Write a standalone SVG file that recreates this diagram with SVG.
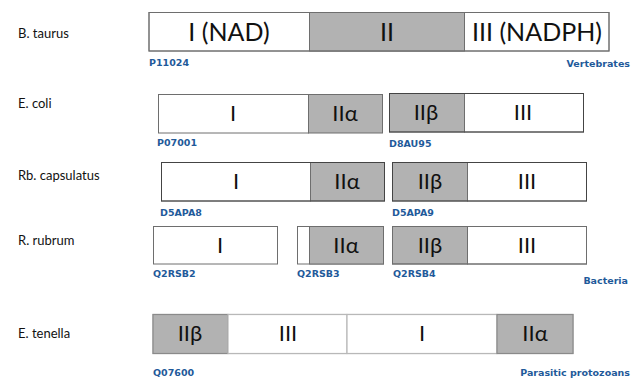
<svg xmlns="http://www.w3.org/2000/svg" width="632" height="379" viewBox="0 0 632 379">
<style>
.bg{fill:#ffffff}
.w{fill:#ffffff;stroke:#6e6e6e;stroke-width:1}
.g{fill:#b2b2b2;stroke:#6e6e6e;stroke-width:1}
.lw{fill:#ffffff;stroke:#b8b8b8;stroke-width:1.2}
.lg{fill:#b2b2b2;stroke:#8a8a8a;stroke-width:1.2}
.dom{font-family:Lato,"Open Sans","DejaVu Sans",sans-serif;font-size:22px;fill:#111;text-anchor:middle}
.big{font-size:25px}
.sp{font-family:Lato,"Open Sans","DejaVu Sans",sans-serif;font-size:13px;fill:#111}
.id{font-family:"DejaVu Sans",Verdana,sans-serif;font-weight:bold;font-size:9.5px;fill:#1f5a9a}
.cat{font-family:"DejaVu Sans",Verdana,sans-serif;font-weight:bold;font-size:9.5px;fill:#1f5a9a;text-anchor:end}
</style>
<rect class="bg" x="0" y="0" width="632" height="379"/>

<g id="btaurus">
<text class="sp" x="18" y="38">B. taurus</text>
<rect class="w" x="149" y="12.5" width="460" height="38.5"/>
<rect class="g" x="309.5" y="12.5" width="155" height="38.5" stroke="none"/>
<rect x="149" y="12.5" width="460" height="38.5" fill="none" stroke="#6e6e6e"/>
<text class="dom big" x="229" y="41">I (NAD)</text>
<text class="dom big" x="387" y="41">II</text>
<text class="dom big" x="537" y="41">III (NADPH)</text>
<text class="id" x="149" y="66">P11024</text>
<text class="cat" x="630" y="67">Vertebrates</text>
</g>

<g id="ecoli">
<text class="sp" x="18" y="108">E. coli</text>
<g id="ecoli-1">
<rect class="w" x="158.5" y="94.5" width="150" height="38.5"/>
<rect class="g" x="308.5" y="94.5" width="74" height="38.5"/>
<text class="dom" x="233" y="121">I</text>
<text class="dom" x="345" y="121">IIα</text>
<text class="id" x="157" y="146">P07001</text>
</g>
<g id="ecoli-2">
<rect class="g" x="389.5" y="93.5" width="75" height="38.5" stroke="#444"/>
<rect class="w" x="464.5" y="93.5" width="119" height="38.5"/>
<rect x="389.5" y="93.5" width="194" height="38.5" fill="none" stroke="#444"/>
<text class="dom" x="426" y="120">IIβ</text>
<text class="dom" x="523" y="120">III</text>
<text class="id" x="389" y="147">D8AU95</text>
</g>
</g>

<g id="rbcapsulatus">
<text class="sp" x="18" y="180">Rb. capsulatus</text>
<g id="rbcap-1">
<rect class="w" x="161.5" y="162.5" width="149" height="38.5"/>
<rect class="g" x="310.5" y="162.5" width="74" height="38.5"/>
<rect x="161.5" y="162.5" width="223" height="38.5" fill="none" stroke="#444"/>
<text class="dom" x="236" y="189">I</text>
<text class="dom" x="347" y="189">IIα</text>
<text class="id" x="160" y="216">D5APA8</text>
</g>
<g id="rbcap-2">
<rect class="g" x="392.5" y="162.5" width="75" height="38.5"/>
<rect class="w" x="467.5" y="162.5" width="119" height="38.5"/>
<rect x="392.5" y="162.5" width="194" height="38.5" fill="none" stroke="#444"/>
<text class="dom" x="430" y="189">IIβ</text>
<text class="dom" x="527" y="189">III</text>
<text class="id" x="392" y="216">D5APA9</text>
</g>
</g>

<g id="rrubrum">
<text class="sp" x="18" y="245">R. rubrum</text>
<g id="rrub-1">
<rect class="w" x="153.5" y="226.5" width="124" height="37.5"/>
<text class="dom" x="220" y="253">I</text>
<text class="id" x="153" y="277">Q2RSB2</text>
</g>
<g id="rrub-2">
<rect class="w" x="297.5" y="226.5" width="86" height="37.5"/>
<rect class="g" x="309.5" y="226.5" width="74" height="37.5"/>
<text class="dom" x="346" y="253">IIα</text>
<text class="id" x="297" y="277">Q2RSB3</text>
</g>
<g id="rrub-3">
<rect class="g" x="392.5" y="226.5" width="75" height="37.5"/>
<rect class="w" x="467.5" y="226.5" width="119" height="37.5"/>
<rect x="392.5" y="226.5" width="194" height="37.5" fill="none" stroke="#6e6e6e"/>
<text class="dom" x="430" y="253">IIβ</text>
<text class="dom" x="527" y="253">III</text>
<text class="id" x="393" y="277">Q2RSB4</text>
</g>
<text class="cat" x="628" y="284">Bacteria</text>
</g>

<g id="etenella">
<text class="sp" x="18" y="338">E. tenella</text>
<rect class="lw" x="153" y="314.5" width="420" height="39"/>
<rect class="lg" x="153" y="314.5" width="75" height="39"/>
<rect class="lw" x="228" y="314.5" width="119" height="39"/>
<rect class="lw" x="347" y="314.5" width="150" height="39"/>
<rect class="lg" x="497" y="314.5" width="76" height="39"/>
<text class="dom" x="190" y="341">IIβ</text>
<text class="dom" x="288" y="341">III</text>
<text class="dom" x="422" y="341">I</text>
<text class="dom" x="535" y="341">IIα</text>
<text class="id" x="153" y="376">Q07600</text>
<text class="cat" x="630" y="376">Parasitic protozoans</text>
</g>
</svg>
